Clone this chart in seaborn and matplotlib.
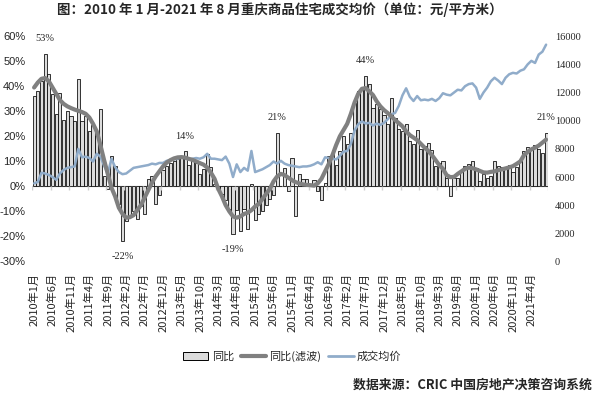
import numpy as np
import pandas as pd
import matplotlib
matplotlib.use("Agg")
import matplotlib.pyplot as plt
import seaborn as sns
from matplotlib.patches import Patch
from matplotlib.lines import Line2D

# ── 数据 ─────────────────────────────────────────────
months = [f"{2010 + i // 12}年{i % 12 + 1}月" for i in range(140)]

# 同比 (%)
yoy = [36, 38, 42, 53, 45, 37, 29, 37.5, 26.5, 30, 28, 26,
       43, 26, 28, 22, 24.5, 20, 31, 4, -1, 12, 8, -7,
       -22, -14, -12, -10, -13, -8, -11, 3, 4, -7, -3.5, 6.5,
       8, 9.5, 10, 11, 12, 14, 8.6, 11, 9.5, 5, 7, 13,
       7.7, 1, -1, -3, -5.5, -9, -19, -9.5, -18, -9, -17, 1,
       -13.5, -11, -10, -7.5, -5, -3.5, 21.5, 0.3, 7.5, -2, 11.5, -12,
       5, 3, 3, 1, 2.5, -2, -5.5, 1.2, 12, 13, 8.5, 14,
       20, 17, 21.5, 33.5, 38, 39, 44, 41, 31.5, 33, 31, 28.5,
       25, 35.5, 27.5, 23, 22, 25, 18, 17, 22.5, 15, 16, 17.5,
       14.5, 8, 9.5, 10, 3.5, -4, 3.5, 3.5, 6.5, 8, 9, 10,
       7.5, 2.3, 5, 3.3, 4, 10, 8, 7.7, 6.8, 8.6, 5.7, 7.7,
       10, 14.3, 15.7, 14.6, 16.6, 14.9, 13.5, 21.3]

# 同比(滤波) (%)
yoy_smooth = [39.5, 41.5, 43, 43.3, 42, 39.5, 37, 34.5, 33, 32, 31.3, 30.7,
              30.2, 29.7, 29, 27.5, 25, 22, 16.5, 10.5, 5, -0.5, -4, -8.5,
              -11, -12.5, -12.3, -11.5, -9.5, -7.5, -4.5, -1.5, 1.5, 4, 6, 8,
              9.5, 10.5, 11.2, 11.6, 11.7, 11.5, 11, 10.6, 10, 9.3, 8.7, 7.5,
              5.5, 3, -1, -4, -7.5, -10, -12, -12.5, -12, -11, -10.5, -9.5,
              -8, -7, -5, -3, -1, 2, 4, 5, 4.5, 3.5, 2.5, 1.7,
              1.2, 0.8, 0.6, 0.5, 0.3, 1.2, 3, 6, 9, 12.5, 16.5, 20,
              22.5, 25, 29, 33.5, 37, 39, 39.3, 38, 36.5, 34, 32, 30.5,
              29.3, 28, 26.5, 25.3, 24, 22, 20.5, 19.5, 18.5, 17, 15.5, 14.2,
              12.5, 10.5, 8.5, 7, 4.5, 3.7, 3.8, 5, 6, 7, 7.5, 7.3,
              6.8, 6.2, 5.6, 5.5, 5.8, 6, 6.5, 6.8, 7.2, 7.6, 8.1, 9,
              10, 12.5, 13.8, 14.8, 15.5, 16.3, 17.5, 18.7]

# 成交均价 (元/平方米)
price = [5550, 5650, 6300, 6250, 6150, 6000, 5800, 6250, 6500, 6650, 6700, 6750,
         8000, 7400, 7450, 7350, 7100, 7650, 7450, 6800, 6250, 7300, 6700, 6350,
         6200, 6250, 6450, 6650, 6700, 6750, 6800, 6850, 6950, 6900, 7000, 7000,
         7150, 7200, 7250, 7300, 7450, 7350, 7250, 7300, 7350, 7300, 7400, 7650,
         7300, 7300, 7250, 7200, 7450, 6950, 6000, 6900, 6350, 6650, 6450, 7850,
         6350, 6450, 6550, 6700, 6850, 7100, 6950, 7150, 6950, 6850, 6800, 6750,
         6700, 6750, 6750, 6800, 6900, 7050, 6900, 7400, 7350, 7300, 7250, 7500,
         7800, 7850, 8350, 9300, 9750, 9950, 9800, 9850, 9650, 9800, 9700, 9850,
         10100, 10450, 10550, 11050, 11800, 12300, 11700, 11400, 11750, 11450, 11500, 11450,
         11550, 11400, 11600, 11950, 11850, 11800, 12000, 12200, 12150, 12450, 12600, 12650,
         12350, 11550, 12000, 12350, 12800, 13050, 12850, 12600, 13050, 13300, 13400, 13350,
         13550, 13650, 14000, 14250, 14100, 14700, 14900, 15400]

# 标注: (月份序号, 文本, 方向)
notes = [(3, "53%", 1), (24, "-22%", -1), (41, "14%", 1), (54, "-19%", -1),
         (66, "21%", 1), (90, "44%", 1), (139, "21%", 1)]

df = pd.DataFrame({"idx": np.arange(len(months)), "yoy": yoy,
                   "smooth": yoy_smooth, "price": price})

BAR = "#dcdcdc"
GRAY = "#808080"
BLUE = "#90acca"

sns.set_theme(style="white")
plt.rcParams["font.family"] = ["Noto Sans CJK SC", "DejaVu Sans"]

fig = plt.figure(figsize=(6.01, 3.98), dpi=100)
ax = fig.add_axes([0.0537, 0.343, 0.858, 0.566])

# 1. 同比柱状
sns.barplot(data=df, x="idx", y="yoy", native_scale=True, width=0.85,
            color=BAR, edgecolor="black", linewidth=0.55, saturation=1, ax=ax)
ax.axhline(0, color="#d0d0d0", lw=1, zorder=0.5)
ax.vlines(np.arange(-0.5, 140, 5), -1.3, 0, color="#d0d0d0", lw=1)

ax.set_xlim(-0.5, 139.5)
ax.set_ylim(-30, 60)
ax.set_yticks(range(-30, 61, 10))
ax.set_yticklabels([f"{v}%" for v in range(-30, 61, 10)],
                   fontsize=8, family="Liberation Sans")
ax.set_xticks(range(0, 140, 5))
ax.set_xticklabels(months[::5], rotation=90, fontsize=8)
ax.tick_params(axis="both", length=0)
ax.tick_params(axis="y", pad=5)
ax.tick_params(axis="x", pad=8)
ax.set_xlabel("")
ax.set_ylabel("")
sns.despine(ax=ax, left=True, bottom=True)

for i, txt, d in notes:
    ax.annotate(txt, (i, yoy[i]), xytext=(0, 11 * d), textcoords="offset points",
                ha="center", va="center", fontsize=7.5, family="Liberation Serif")

# 2. 成交均价 (右轴)
ax2 = ax.twinx()
sns.lineplot(data=df, x="idx", y="price", color=BLUE, lw=1.8, ax=ax2)
ax2.set_ylim(0, 16000)
ax2.set_yticks(range(0, 16001, 2000))
ax2.set_yticklabels([str(v) for v in range(0, 16001, 2000)],
                    fontsize=7.5, family="Liberation Serif")
ax2.tick_params(axis="y", length=0, pad=5)
ax2.set_ylabel("")
ax2.set_xlim(-0.5, 139.5)
for s in ax2.spines.values():
    s.set_visible(False)

# 3. 同比(滤波) 放在最上层
ax3 = ax.twinx()
sns.lineplot(data=df, x="idx", y="smooth", color=GRAY, lw=3, ax=ax3)
ax3.set_ylim(-30, 60)
ax3.set_xlim(-0.5, 139.5)
ax3.axis("off")

# 图例
handles = [Patch(facecolor=BAR, edgecolor="black", linewidth=0.7),
           Line2D([], [], color=GRAY, lw=3),
           Line2D([], [], color=BLUE, lw=2)]
fig.legend(handles, ["同比", "同比(滤波)", "成交均价"], loc="center",
           bbox_to_anchor=(0.486, 0.104), ncol=3, frameon=False, fontsize=8,
           handlelength=2.3, handletextpad=0.3, columnspacing=0.6)

fig.text(0.465, 0.976, "图：2010 年 1 月-2021 年 8 月重庆商品住宅成交均价（单位：元/平方米）",
         ha="center", va="center", fontsize=9.7, fontweight="bold")
fig.text(0.985, 0.033, "数据来源：CRIC 中国房地产决策咨询系统",
         ha="right", va="center", fontsize=9.3, fontweight="bold")

fig.savefig("out.png", dpi=100, facecolor="white")
